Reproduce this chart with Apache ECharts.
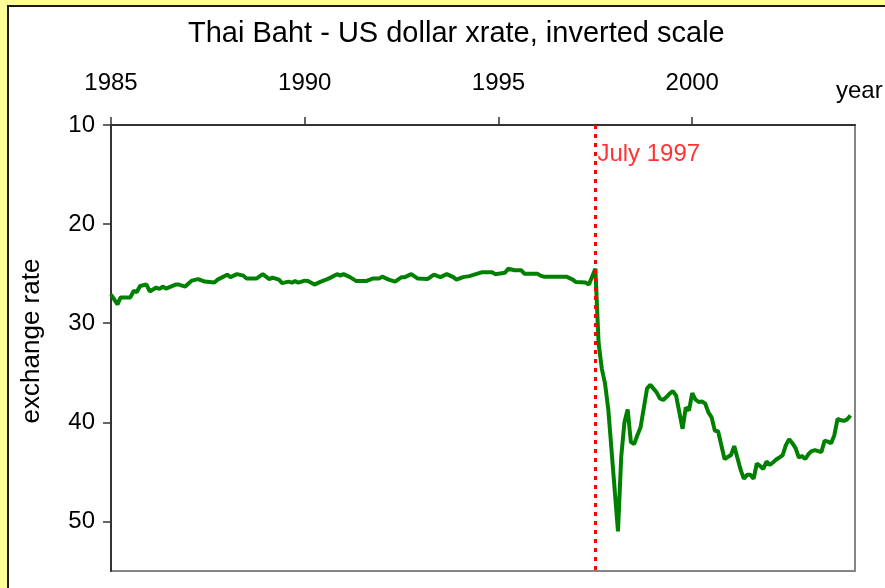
<!DOCTYPE html>
<html>
<head>
<meta charset="utf-8">
<script src="https://cdn.jsdelivr.net/npm/echarts@6/dist/echarts.min.js"></script>
<style>
  html, body { margin: 0; padding: 0; background: #FFFF99; overflow: hidden; }
  #panel {
    position: absolute; left: 7px; top: 5px; width: 1000px; height: 1000px;
    background: #FFFFFF; border: 2px solid #1a1a1a;
  }
  #chart { position: absolute; left: 0; top: 0; width: 885px; height: 588px; }
</style>
</head>
<body>
<div id="panel"></div>
<div id="chart"></div>
<script>
// Monthly Thai baht per US dollar (plotted on an inverted scale)
const months = [
  '1985-01','1985-03','1985-04','1985-07','1985-08','1985-09','1985-10','1985-12',
  '1986-01','1986-03','1986-04','1986-05','1986-06','1986-09','1986-10','1986-12',
  '1987-01','1987-02','1987-04','1987-06','1987-09','1987-10',
  '1988-01','1988-02','1988-04','1988-06','1988-07','1988-10','1988-12',
  '1989-02','1989-03','1989-05','1989-06','1989-08','1989-09','1989-10','1989-11',
  '1990-01','1990-02','1990-04','1990-06','1990-08','1990-09','1990-11','1990-12',
  '1991-01','1991-03','1991-05','1991-08','1991-10','1991-12',
  '1992-01','1992-03','1992-05','1992-07','1992-08','1992-10','1992-12',
  '1993-03','1993-05','1993-07','1993-09','1993-11','1993-12',
  '1994-02','1994-04','1994-06','1994-08','1994-11','1994-12',
  '1995-03','1995-04','1995-06','1995-08','1995-09','1995-11',
  '1996-01','1996-02','1996-03','1996-06','1996-10','1996-12',
  '1997-01','1997-04','1997-05','1997-07','1997-08','1997-09','1997-10','1997-11',
  '1998-02','1998-03','1998-04','1998-05','1998-06','1998-07','1998-08','1998-09','1998-11','1998-12',
  '1999-01','1999-02','1999-03','1999-04','1999-05','1999-06','1999-07','1999-08','1999-10','1999-11','1999-12',
  '2000-01','2000-02','2000-03','2000-04','2000-05','2000-06','2000-07','2000-08','2000-09','2000-11','2000-12',
  '2001-01','2001-02','2001-03','2001-04','2001-05','2001-06','2001-07','2001-08','2001-09','2001-10','2001-11','2001-12',
  '2002-01','2002-02','2002-03','2002-04','2002-05','2002-06','2002-07','2002-08','2002-09','2002-10','2002-11','2002-12',
  '2003-01','2003-02','2003-03','2003-04','2003-05','2003-06','2003-07','2003-08','2003-09','2003-10','2003-11','2003-12',
  '2004-01','2004-02'
];
const baht = [
  27.1, 28.1, 27.4, 27.4, 26.75, 26.85, 26.25, 26.1,
  26.8, 26.4, 26.55, 26.3, 26.5, 26.1, 26.1, 26.3,
  26.0, 25.7, 25.55, 25.8, 25.9, 25.6,
  25.1, 25.35, 25.05, 25.2, 25.5, 25.5, 25.05,
  25.55, 25.4, 25.6, 25.95, 25.8, 25.9, 25.75, 25.9,
  25.7, 25.75, 26.1, 25.8, 25.55, 25.4, 25.05, 25.2,
  25.05, 25.35, 25.75, 25.75, 25.5, 25.5,
  25.3, 25.6, 25.8, 25.35, 25.35, 25.05, 25.5,
  25.55, 25.1, 25.35, 25.05, 25.35, 25.6,
  25.35, 25.25, 25.05, 24.85, 24.85, 25.05,
  24.9, 24.5, 24.65, 24.65, 25.0, 25.0,
  25.0, 25.2, 25.3, 25.3, 25.3, 25.6,
  25.85, 25.9, 26.1, 24.5, 32.0, 34.6, 36.1, 38.7,
  51.0, 43.5, 40.0, 38.7, 42.0, 42.2, 41.3, 40.5, 36.6, 36.2,
  36.6, 37.0, 37.6, 37.75, 37.45, 37.1, 36.85, 37.3, 40.65, 38.5, 38.8,
  37.05, 37.7, 37.95, 37.9, 38.1, 39.0, 39.5, 40.85, 40.9, 43.7, 43.5,
  43.3, 42.4, 43.6, 44.8, 45.7, 45.3, 45.3, 45.7, 44.15, 44.4, 44.7, 43.95,
  44.3, 44.05, 43.75, 43.55, 43.3, 42.3, 41.7, 42.1, 42.6, 43.55, 43.4, 43.7,
  43.2, 42.9, 42.8, 42.9, 43.0, 41.85, 41.95, 42.1, 41.3, 39.65, 39.8, 39.85,
  39.7, 39.3
];
const yearTicks = [1985, 1990, 1995, 2000];
const rateTicks = [10, 20, 30, 40, 50];
const crisisMonth = '1997-07';
const crisisLabel = 'July 1997';

const FONT = 'Liberation Sans, Arial, sans-serif';

function toYear(ym) {
  const [y, m] = ym.split('-').map(Number);
  return y + (m - 1) / 12;
}

const seriesData = months.map((m, i) => [toYear(m), baht[i]]);
const crisisYear = toYear(crisisMonth);

const chart = echarts.init(document.getElementById('chart'), null, { renderer: 'canvas' });

chart.setOption({
  animation: false,
  backgroundColor: 'transparent',
  graphic: [
    {
      type: 'text', left: 836, top: 79, z: 10,
      style: { text: 'year', fontSize: 24, fontFamily: FONT, fill: '#000' }
    },
    {
      type: 'text', x: 32, y: 341, rotation: Math.PI / 2, z: 10,
      style: {
        text: 'exchange rate', fontSize: 26, fontFamily: FONT, fill: '#000',
        align: 'center', verticalAlign: 'middle'
      }
    }
  ],
  title: {
    text: 'Thai Baht - US dollar xrate, inverted scale',
    left: 188, top: 19, padding: 0,
    textStyle: { fontSize: 29, fontWeight: 'normal', color: '#000', fontFamily: FONT }
  },
  grid: {
    left: 111, top: 125, right: 30, bottom: 17,
    show: true, backgroundColor: '#FFFFFF', borderColor: '#858585', borderWidth: 2
  },
  xAxis: {
    type: 'value', position: 'top',
    min: 1985, max: 2004.2, interval: 5,
    axisLine: { show: true, lineStyle: { color: '#333', width: 2 } },
    axisTick: { show: true, inside: false, length: 8, customValues: yearTicks, lineStyle: { color: '#333', width: 1.5 } },
    axisLabel: {
      customValues: yearTicks, formatter: v => String(Math.round(v)),
      fontSize: 24, color: '#000', fontFamily: FONT, margin: 30
    },
    splitLine: { show: false }
  },
  yAxis: {
    type: 'value', inverse: true,
    min: 10, max: 55, interval: 10,
    axisLine: { show: true, lineStyle: { color: '#333', width: 2 } },
    axisTick: { show: true, inside: false, length: 8, customValues: rateTicks, lineStyle: { color: '#333', width: 1.5 } },
    axisLabel: {
      customValues: rateTicks, formatter: v => String(Math.round(v)),
      fontSize: 24, color: '#000', fontFamily: FONT, margin: 16
    },
    splitLine: { show: false }
  },
  series: [
    {
      type: 'line',
      data: seriesData,
      showSymbol: false,
      lineStyle: { color: '#008000', width: 4 },
      z: 3,
      markLine: {
        silent: true,
        symbol: 'none',
        label: { show: false },
        lineStyle: { color: '#FF0000', width: 3, type: [4, 5] },
        data: [{ xAxis: crisisYear }]
      }
    },
    {
      type: 'scatter',
      data: [[crisisYear, 13]],
      symbolSize: 0,
      silent: true,
      label: {
        show: true, position: 'right', distance: 2,
        formatter: crisisLabel,
        fontSize: 24, color: '#FF0000', fontFamily: FONT
      }
    }
  ]
});
</script>
</body>
</html>
